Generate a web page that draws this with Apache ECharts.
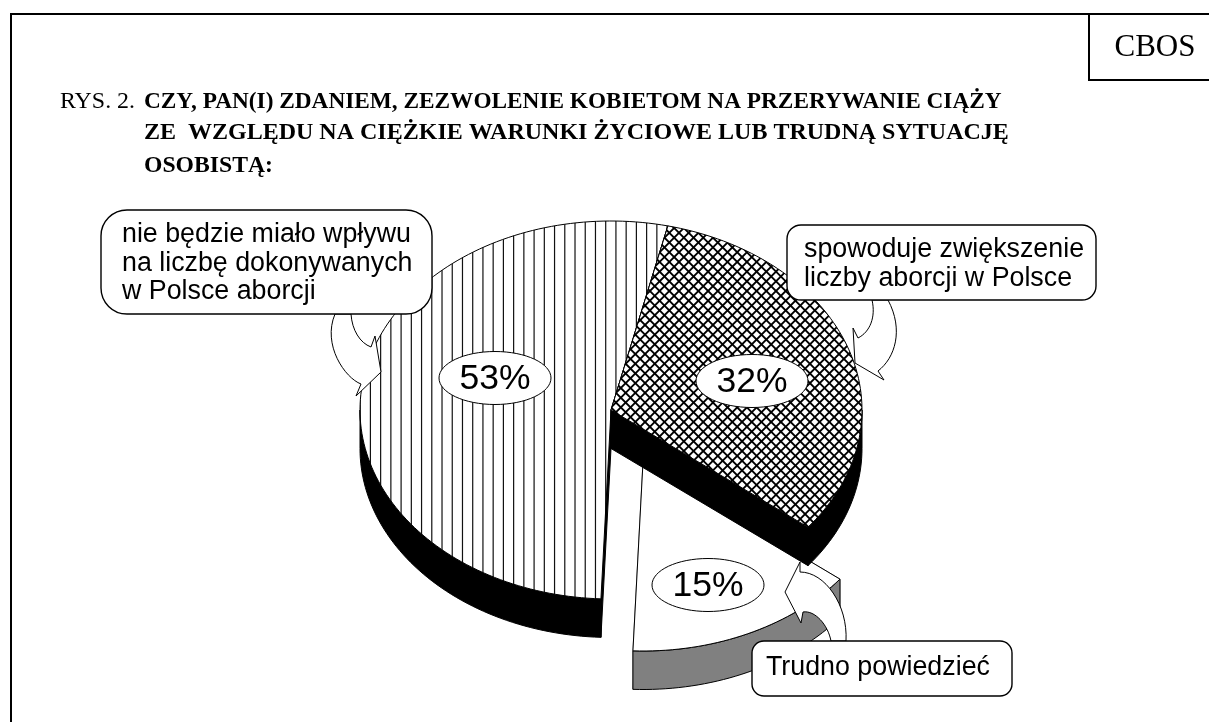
<!DOCTYPE html>
<html><head><meta charset="utf-8">
<script src="https://cdn.jsdelivr.net/npm/echarts@6/dist/echarts.min.js"></script>
<style>html,body{margin:0;padding:0;background:#fff}#c{width:1209px;height:722px}</style>
</head><body><div id="c"></div>
<script>
// ---- data ----
const categories = ['spowoduje zwiększenie liczby aborcji w Polsce', 'Trudno powiedzieć', 'nie będzie miało wpływu na liczbę dokonywanych w Polsce aborcji'];
const values = [32, 15, 53];
const valueLabels = ['32%', '15%', '53%'];
const titleLead = 'RYS. 2.';
const titleLines = ['CZY, PAN(I) ZDANIEM, ZEZWOLENIE KOBIETOM NA PRZERYWANIE CIĄŻY', 'ZE  WZGLĘDU NA CIĘŻKIE WARUNKI ŻYCIOWE LUB TRUDNĄ SYTUACJĘ', 'OSOBISTĄ:'];
const brand = 'CBOS';
const callout1 = ['nie będzie miało wpływu', 'na liczbę dokonywanych', 'w Polsce aborcji'];
const callout2 = ['spowoduje zwiększenie', 'liczby aborcji w Polsce'];
const callout3 = ['Trudno powiedzieć'];

// ---- geometry & style (not data) ----
const W = 1209, H = 722;
const CX = 611, CY = 410, RX = 251, RY = 189, DEPTH = 38.5;
const START = 13.1;                 // clockwise degrees from top of first slice
const EXPLODE = {1: [32, 52]};      // offset of the pulled-out slice
const LABEL_POS = [[752, 381], [708, 585], [495, 378]];
const DRAW_ORDER = [1, 2, 0];

function hatchVertical() {
  const c = document.createElement('canvas'); c.width = W; c.height = H;
  const g = c.getContext('2d'); g.fillStyle = '#fff'; g.fillRect(0, 0, W, H);
  g.strokeStyle = '#111'; g.lineWidth = 1.2;
  const p = 10.23;
  for (let x = 605.7 % p; x < W; x += p) { g.beginPath(); g.moveTo(x, 0); g.lineTo(x, H); g.stroke(); }
  return c;
}
function hatchCross() {
  const c = document.createElement('canvas'); c.width = W; c.height = H;
  const g = c.getContext('2d'); g.fillStyle = '#fff'; g.fillRect(0, 0, W, H);
  g.strokeStyle = '#000'; g.lineWidth = 1.8;
  const p = 9.7;
  for (let k = -200; k < 300; k++) {
    g.beginPath(); g.moveTo(k * p, 0); g.lineTo(k * p + H, H); g.stroke();
    g.beginPath(); g.moveTo(k * p, 0); g.lineTo(k * p - H, H); g.stroke();
  }
  return c;
}
const FILLS = [
  {image: hatchCross(), repeat: 'no-repeat'},
  '#ffffff',
  {image: hatchVertical(), repeat: 'no-repeat'}
];
const WALLS = ['#000000', '#808080', '#000000'];

function pt(cx, cy, deg) {
  const a = deg * Math.PI / 180;
  return [cx + RX * Math.sin(a), cy - RY * Math.cos(a)];
}
function arc(cx, cy, a0, a1) {
  const n = Math.max(2, Math.ceil(Math.abs(a1 - a0) / 1.5)), out = [];
  for (let i = 0; i <= n; i++) out.push(pt(cx, cy, a0 + (a1 - a0) * i / n));
  return out;
}
const total = values.reduce((a, b) => a + b, 0);
function sliceAngles(i) {
  let a = START;
  for (let k = 0; k < i; k++) a += values[k] / total * 360;
  return [a, a + values[i] / total * 360];
}

function renderSlice(params, api) {
  const i = api.value(0);
  const [a0, a1] = sliceAngles(i);
  const off = EXPLODE[i] || [0, 0];
  const cx = CX + off[0], cy = CY + off[1];
  const children = [];
  const wall = WALLS[i];
  const lineW = {stroke: '#000', lineWidth: 1};
  const p0 = pt(cx, cy, a0), p1 = pt(cx, cy, a1);
  [p0, p1].forEach(p => {
    children.push({type: 'polygon', shape: {points: [[cx, cy], p, [p[0], p[1] + DEPTH], [cx, cy + DEPTH]]},
      style: {fill: wall, stroke: wall, lineWidth: 1}, silent: true});
  });
  const w0 = Math.max(a0, 90), w1 = Math.min(a1, 270);
  if (w1 > w0) {
    const top = arc(cx, cy, w0, w1);
    const bot = top.map(p => [p[0], p[1] + DEPTH]).reverse();
    children.push({type: 'polygon', shape: {points: top.concat(bot)}, style: Object.assign({fill: wall}, lineW), silent: true});
  }
  children.push({type: 'polygon', shape: {points: [[cx, cy]].concat(arc(cx, cy, a0, a1))},
    style: Object.assign({fill: FILLS[i]}, lineW), silent: true});
  const lp = LABEL_POS[i];
  children.push({type: 'ellipse', shape: {cx: lp[0], cy: lp[1], rx: 56, ry: 26.5},
    style: {fill: '#fff', stroke: '#000', lineWidth: 1}, silent: true});
  children.push({type: 'text', x: lp[0], y: lp[1] + 1.5, silent: true,
    style: {text: valueLabels[i], x: 0, y: 0, align: 'center', verticalAlign: 'middle',
      font: '35.5px "Liberation Sans", Arial, sans-serif', fill: '#000'}});
  return {type: 'group', children};
}

function txt(text, x, y, font, align) {
  return {type: 'text', x, y, z: 20, silent: true,
    style: {text, x: 0, y: 0, font, fill: '#000', align: align || 'left', verticalAlign: 'middle'}};
}
function box(x, y, w, h, r) {
  return {type: 'rect', z: 15, silent: true, shape: {x, y, width: w, height: h, r},
    style: {fill: '#fff', stroke: '#000', lineWidth: 1.4}};
}
function rule(x1, y1, x2, y2) {
  return {type: 'line', z: 30, silent: true, shape: {x1, y1, x2, y2}, style: {stroke: '#000', lineWidth: 2}};
}
const SERIF = '"Liberation Serif", "Times New Roman", serif';
const SANS = '"Liberation Sans", Arial, sans-serif';
const CALL_FONT = '26.8px ' + SANS;

const graphics = [
  rule(11, 14, W, 14), rule(11, 13, 11, H), rule(1089, 14, 1089, 80), rule(1088, 80, W, 80),
  txt(brand, 1155, 48, '31px ' + SERIF, 'center'),
  txt(titleLead, 60, 102, '23.9px ' + SERIF),
  txt(titleLines[0], 144, 102, 'bold 23.3px ' + SERIF),
  txt(titleLines[1], 144, 133, 'bold 24px ' + SERIF),
  txt(titleLines[2], 144, 166, 'bold 23.7px ' + SERIF),
  box(101, 210, 331, 104, 26),
  box(787, 225, 309, 75, 14),
  box(752, 641, 260, 55, 12),
  ...callout1.map((t, k) => txt(t, 122, 235 + k * 28.5, CALL_FONT)),
  ...callout2.map((t, k) => txt(t, 804, 249.5 + k * 29.5, CALL_FONT)),
  ...callout3.map(t => txt(t, 766, 668, CALL_FONT))
];
const arrowPaths = [
  'M351 314 C352 330 360 343 371 347 L375 336 L381 372 L356 396 L361 384 C345 378 322 345 335 314 Z',
  'M872 300 C876 317 870 332 858 338 L853 328 L855 363 L884 380 L878 371 C895 358 904 330 888 300 Z',
  'M831 641 C828 625 815 610 803 612 L801 623 L785 592 L800 562 L800 572 C825 572 848 605 846 641 Z'
];

const chart = echarts.init(document.getElementById('c'), null, {renderer: 'canvas'});
chart.setOption({
  animation: false,
  backgroundColor: '#ffffff',
  graphic: {elements: graphics},
  series: [{
    type: 'custom',
    coordinateSystem: 'none',
    silent: true,
    clip: false,
    z: 2,
    renderItem: renderSlice,
    data: DRAW_ORDER.map(i => [i, values[i]])
  }, {
    type: 'custom',
    coordinateSystem: 'none',
    silent: true,
    clip: false,
    z: 10,
    renderItem: (p, api) => ({type: 'path', shape: {pathData: arrowPaths[api.value(0)]},
      style: {fill: '#fff', stroke: '#000', lineWidth: 1}}),
    data: arrowPaths.map((d, i) => [i])
  }]
});
</script></body></html>
